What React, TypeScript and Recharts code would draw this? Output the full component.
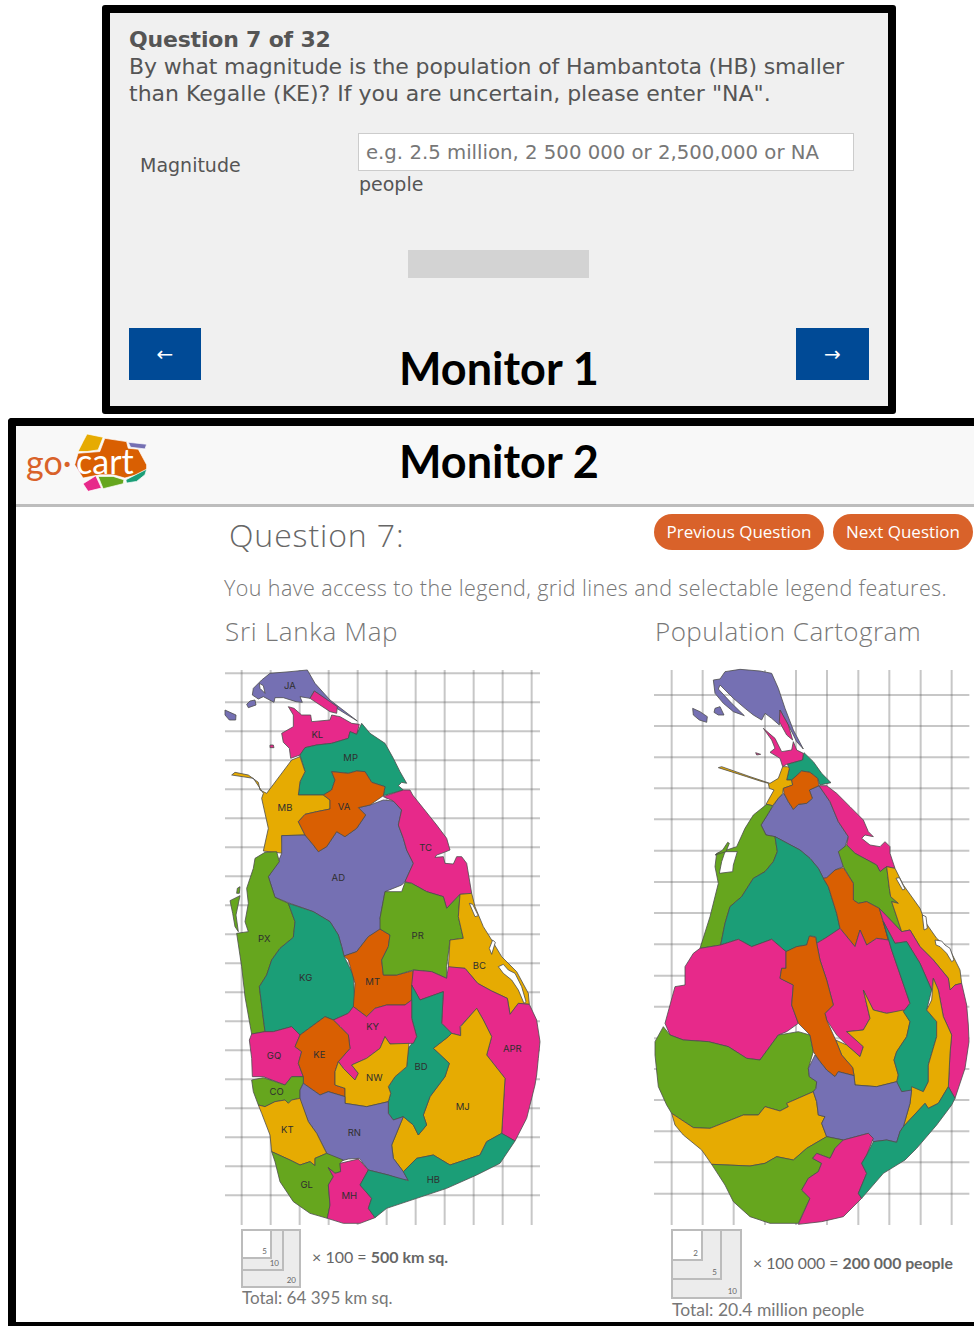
import type { CSSProperties } from 'react';
import { ScatterChart, Scatter, XAxis, YAxis, ReferenceLine } from 'recharts';

type Ring = number[][];
type Region = { color: string; ring: Ring };

const PURPLE = '#7570b3';
const PINK = '#e7298a';
const TEAL = '#1b9e77';
const YELLOW = '#e6ab02';
const ORANGE = '#d95f02';
const GREEN = '#66a61e';
const WATER = '#ffffff';

// Sri Lanka land map, outlines in map units (1 unit = 1/3 px)
const lJA: Ring = [[100,70],[125,45],[150,25],[210,20],[262,15],[285,55],[330,105],[412,168],[350,130],[300,90],[283,78],[270,100],[240,95],[247,112],[228,110],[190,98],[165,98],[162,112],[130,95],[115,102],[97,90]];
const lJAHole: Ring = [[118,55],[130,62],[135,85],[120,70]];
const lIsle1: Ring = [[90,108],[105,105],[108,120],[85,128],[80,118]];
const lIsle2: Ring = [[15,135],[30,142],[48,150],[47,165],[28,165],[15,150]];
const lIsle3: Ring = [[150,240],[160,240],[162,248],[150,248]];
const lKLN: Ring = [[283,78],[330,110],[352,125],[350,145],[330,140],[300,120],[270,100]];
const lKL: Ring = [[205,125],[222,130],[245,150],[272,150],[275,170],[330,165],[335,150],[360,155],[395,175],[418,178],[410,208],[390,200],[385,220],[335,235],[290,240],[255,248],[240,270],[212,280],[208,250],[190,232],[185,205],[220,185],[220,150]];
const lMP: Ring = [[425,175],[450,205],[495,235],[520,280],[540,320],[560,355],[545,352],[535,362],[550,375],[490,392],[495,365],[455,352],[435,320],[410,318],[385,325],[335,320],[345,345],[335,375],[310,390],[235,390],[240,350],[255,320],[240,270],[255,248],[290,240],[335,235],[385,220],[390,200],[410,208]];
const lMB: Ring = [[240,275],[255,320],[240,350],[235,390],[310,390],[330,405],[330,432],[290,440],[255,448],[235,470],[255,510],[185,512],[190,565],[130,558],[145,490],[125,400],[130,385],[100,340],[35,330],[45,322],[85,330],[115,352],[120,375],[140,385],[170,345],[215,285]];
const lVA: Ring = [[335,320],[385,325],[410,318],[435,320],[455,352],[495,365],[490,392],[450,420],[415,428],[437,450],[410,490],[375,515],[350,500],[320,545],[295,560],[280,540],[255,510],[235,470],[255,448],[290,440],[330,432],[330,405],[310,390],[335,375],[345,345]];
const lAD: Ring = [[185,512],[255,510],[280,540],[295,560],[320,545],[350,500],[375,515],[410,490],[437,450],[415,428],[450,420],[490,405],[520,408],[545,435],[535,480],[550,520],[560,555],[580,595],[555,650],[545,660],[495,680],[480,760],[490,790],[445,815],[410,860],[372,873],[365,845],[355,810],[330,770],[280,740],[210,715],[165,697],[145,635],[175,590],[185,565]];
const lTC: Ring = [[490,395],[550,375],[570,375],[578,390],[610,430],[650,480],[680,520],[690,555],[665,565],[650,570],[645,577],[670,575],[675,595],[700,597],[710,575],[725,575],[740,595],[755,685],[720,688],[680,730],[670,695],[620,680],[575,655],[555,650],[580,595],[560,555],[550,520],[535,480],[545,435],[520,408]];
const lPX: Ring = [[135,562],[170,560],[178,590],[145,635],[165,697],[205,715],[225,770],[220,817],[180,850],[155,885],[140,930],[118,965],[135,1100],[95,1107],[75,995],[65,905],[50,805],[85,800],[75,770],[85,715],[80,670],[100,610],[105,580]];
const lPXSpit: Ring = [[30,707],[60,692],[48,750],[55,800],[45,785],[38,745]];
const lPXIsle: Ring = [[52,670],[60,665],[58,685],[50,685]];
const lKG: Ring = [[205,715],[280,740],[330,770],[355,810],[365,845],[372,873],[400,930],[405,1020],[385,1045],[340,1065],[315,1055],[240,1110],[215,1085],[160,1100],[135,1100],[118,965],[140,930],[155,885],[180,850],[220,817],[225,770]];
const lMT: Ring = [[372,873],[410,860],[445,815],[480,792],[510,810],[505,845],[485,885],[490,930],[530,930],[580,917],[575,1005],[555,1020],[500,1020],[465,1030],[440,1055],[400,1025],[405,955],[385,885]];
const lPR: Ring = [[495,680],[545,680],[555,652],[575,655],[620,680],[670,695],[680,730],[720,688],[715,755],[730,820],[690,825],[680,905],[680,940],[635,920],[580,915],[530,930],[490,930],[485,885],[505,845],[510,810],[480,792],[480,760]];
const lBC: Ring = [[720,688],[755,685],[765,725],[790,785],[815,825],[845,875],[890,920],[925,985],[928,1018],[895,1015],[870,1048],[862,1000],[815,978],[773,955],[735,910],[685,908],[690,825],[730,820],[715,755]];
const lBCLag1: Ring = [[748,715],[758,718],[775,752],[765,755]];
const lBCLag2: Ring = [[818,825],[826,832],[815,868],[808,850]];
const lBCLag3: Ring = [[835,905],[850,898],[865,915],[885,925],[905,965],[918,1010],[912,1015],[895,975],[875,945],[850,925]];
const lAPR: Ring = [[580,915],[635,920],[680,940],[685,905],[735,910],[773,955],[815,978],[862,1000],[870,1048],[895,1015],[928,1018],[950,1065],[960,1130],[955,1180],[950,1230],[945,1260],[920,1360],[885,1428],[845,1405],[855,1240],[800,1170],[815,1115],[790,1065],[770,1030],[720,1085],[722,1112],[695,1105],[665,1075],[670,980],[600,1005],[575,960]];
const lBD: Ring = [[575,960],[600,1005],[670,980],[665,1075],[695,1105],[685,1115],[640,1150],[688,1195],[675,1235],[630,1295],[610,1350],[620,1380],[595,1410],[580,1380],[550,1355],[520,1365],[505,1345],[505,1310],[512,1285],[505,1265],[525,1235],[560,1205],[565,1150],[590,1115],[575,1060]];
const lMJ: Ring = [[770,1030],[722,1085],[722,1112],[695,1105],[685,1115],[640,1150],[688,1195],[675,1235],[630,1295],[610,1350],[620,1380],[595,1410],[580,1380],[550,1355],[515,1440],[520,1480],[550,1520],[590,1480],[640,1470],[690,1500],[780,1470],[800,1430],[845,1405],[855,1240],[800,1170],[815,1115],[790,1065]];
const lKY: Ring = [[385,1045],[400,1025],[440,1055],[465,1030],[500,1020],[555,1020],[575,1005],[575,1060],[590,1115],[580,1135],[510,1137],[495,1115],[480,1150],[440,1180],[395,1200],[415,1225],[405,1245],[370,1210],[355,1190],[390,1150],[385,1110],[360,1085],[340,1065]];
const lGQ: Ring = [[95,1107],[135,1100],[160,1100],[215,1085],[240,1110],[225,1145],[245,1160],[235,1195],[250,1235],[215,1235],[195,1260],[130,1235],[97,1235],[95,1180],[88,1125]];
const lKE: Ring = [[240,1110],[315,1055],[340,1065],[360,1085],[385,1110],[390,1150],[355,1190],[345,1220],[345,1260],[375,1270],[375,1295],[325,1280],[300,1290],[250,1255],[250,1235],[235,1195],[245,1160],[225,1145]];
const lNW: Ring = [[480,1150],[495,1115],[510,1137],[567,1135],[560,1205],[525,1235],[505,1265],[512,1285],[505,1310],[440,1325],[375,1315],[375,1270],[345,1260],[345,1220],[355,1190],[370,1210],[405,1245],[415,1225],[395,1200],[440,1180]];
const lCO: Ring = [[95,1245],[130,1238],[195,1260],[215,1235],[250,1235],[250,1255],[240,1275],[240,1300],[215,1305],[205,1315],[195,1305],[165,1310],[135,1325],[115,1320],[100,1280]];
const lRN: Ring = [[250,1255],[300,1290],[325,1280],[375,1295],[375,1315],[440,1325],[505,1310],[505,1345],[520,1365],[550,1355],[515,1440],[520,1480],[550,1520],[565,1545],[545,1545],[505,1530],[445,1515],[418,1480],[385,1482],[355,1490],[320,1465],[290,1405],[265,1370],[240,1305],[240,1275]];
const lKT: Ring = [[115,1320],[135,1325],[165,1310],[195,1305],[205,1315],[215,1305],[240,1300],[265,1370],[290,1405],[320,1465],[285,1480],[285,1502],[270,1490],[240,1500],[210,1485],[155,1460],[150,1410],[125,1345]];
const lGL: Ring = [[155,1460],[210,1485],[240,1500],[270,1490],[285,1502],[285,1480],[320,1465],[370,1485],[360,1495],[362,1520],[345,1525],[325,1508],[340,1535],[325,1560],[330,1620],[322,1660],[270,1645],[220,1610],[180,1550],[165,1490]];
const lMH: Ring = [[360,1495],[415,1482],[445,1515],[420,1560],[455,1600],[445,1630],[465,1658],[420,1675],[370,1675],[322,1660],[330,1620],[325,1560],[340,1535],[325,1508],[345,1525],[362,1520]];
const lHB: Ring = [[420,1560],[445,1515],[505,1530],[565,1547],[550,1520],[590,1480],[640,1470],[690,1500],[780,1470],[800,1430],[845,1405],[885,1428],[840,1495],[770,1530],[680,1570],[590,1600],[500,1630],[465,1658],[445,1630],[455,1600]];

const landRegions: Region[] = [
  { color: PURPLE, ring: lJA }, { color: WATER, ring: lJAHole }, { color: PURPLE, ring: lIsle1 }, { color: PURPLE, ring: lIsle2 },
  { color: PINK, ring: lIsle3 }, { color: PINK, ring: lKLN }, { color: PINK, ring: lKL }, { color: TEAL, ring: lMP },
  { color: YELLOW, ring: lMB }, { color: PURPLE, ring: lAD }, { color: ORANGE, ring: lVA }, { color: PINK, ring: lTC },
  { color: GREEN, ring: lPX }, { color: GREEN, ring: lPXSpit }, { color: GREEN, ring: lPXIsle }, { color: TEAL, ring: lKG },
  { color: ORANGE, ring: lMT }, { color: GREEN, ring: lPR }, { color: YELLOW, ring: lBC }, { color: WATER, ring: lBCLag1 },
  { color: WATER, ring: lBCLag2 }, { color: WATER, ring: lBCLag3 }, { color: PINK, ring: lAPR }, { color: YELLOW, ring: lMJ },
  { color: TEAL, ring: lBD }, { color: PINK, ring: lKY }, { color: PINK, ring: lGQ }, { color: ORANGE, ring: lKE },
  { color: YELLOW, ring: lNW }, { color: GREEN, ring: lCO }, { color: PURPLE, ring: lRN }, { color: YELLOW, ring: lKT },
  { color: GREEN, ring: lGL }, { color: PINK, ring: lMH }, { color: TEAL, ring: lHB },
];

const landLabels = [
  { name: 'JA', x: 210, y: 60 }, { name: 'KL', x: 292, y: 208 }, { name: 'MP', x: 392, y: 277 }, { name: 'MB', x: 195, y: 428 },
  { name: 'VA', x: 372, y: 423 }, { name: 'TC', x: 617, y: 548 }, { name: 'AD', x: 355, y: 637 }, { name: 'PX', x: 133, y: 820 },
  { name: 'PR', x: 593, y: 810 }, { name: 'KG', x: 257, y: 938 }, { name: 'MT', x: 458, y: 950 }, { name: 'BC', x: 778, y: 900 },
  { name: 'KY', x: 458, y: 1083 }, { name: 'GQ', x: 162, y: 1170 }, { name: 'KE', x: 298, y: 1167 }, { name: 'NW', x: 463, y: 1237 },
  { name: 'BD', x: 603, y: 1205 }, { name: 'APR', x: 877, y: 1150 }, { name: 'CO', x: 170, y: 1278 }, { name: 'KT', x: 202, y: 1393 },
  { name: 'RN', x: 403, y: 1403 }, { name: 'MJ', x: 728, y: 1325 }, { name: 'GL', x: 260, y: 1558 }, { name: 'MH', x: 388, y: 1592 },
  { name: 'HB', x: 640, y: 1543 },
];

const landGridX = [65, 152, 239, 326, 413, 500, 587, 674, 761, 848, 935];
const landGridY = [25, 112, 199, 286, 373, 460, 547, 634, 721, 808, 895, 982, 1069, 1156, 1243, 1330, 1417, 1504, 1591];

// Population cartogram
const cJA: Ring = [[190,45],[210,42],[225,20],[270,13],[330,18],[365,25],[385,70],[405,130],[430,195],[460,252],[440,230],[415,180],[390,135],[388,180],[365,160],[345,145],[335,165],[310,150],[285,130],[250,100],[210,60],[205,72],[245,115],[283,152],[250,140],[220,115],[195,85]];
const cIsle1: Ring = [[128,130],[150,140],[172,155],[170,172],[148,165],[130,150]];
const cIsle2: Ring = [[195,130],[210,125],[222,150],[205,150],[192,142]];
const cIsle3: Ring = [[317,263],[332,268],[320,270]];
const cKLN: Ring = [[390,135],[415,180],[428,225],[410,210],[388,170]];
const cKL: Ring = [[340,190],[375,220],[395,260],[425,255],[430,230],[440,255],[460,265],[458,285],[410,298],[398,305],[390,280],[360,262],[375,250],[365,225]];
const cMP: Ring = [[462,263],[490,290],[515,325],[543,353],[510,360],[503,340],[480,322],[455,318],[425,345],[410,345],[418,310],[412,298],[458,285]];
const cMB: Ring = [[398,305],[412,305],[418,310],[410,345],[425,345],[428,360],[400,370],[398,385],[385,400],[368,422],[348,418],[372,375],[358,370],[355,355],[330,348],[290,335],[205,308],[215,305],[300,335],[360,355],[385,340]];
const cVA: Ring = [[455,318],[480,322],[503,340],[507,362],[478,375],[487,400],[470,415],[445,418],[430,433],[415,410],[402,385],[400,370],[428,360],[425,345]];
const cAD: Ring = [[370,422],[385,400],[402,385],[415,410],[430,433],[445,418],[470,415],[487,400],[478,375],[507,362],[540,410],[565,470],[595,515],[585,545],[580,605],[555,615],[530,640],[520,640],[505,610],[480,580],[450,555],[375,515],[348,510],[333,480],[355,445]];
const cTC: Ring = [[507,362],[530,362],[560,385],[600,425],[640,465],[655,500],[670,515],[645,510],[635,520],[660,540],[690,545],[705,530],[720,545],[720,565],[735,610],[710,605],[690,620],[680,600],[615,565],[590,540],[595,515],[565,470],[540,410]];
const cPX: Ring = [[350,418],[368,422],[355,445],[333,480],[348,510],[375,515],[382,560],[370,590],[345,620],[310,640],[275,695],[240,725],[225,775],[212,840],[150,850],[180,755],[205,655],[195,605],[200,565],[260,545],[285,490],[310,450]];
const cPXLag: Ring = [[225,560],[262,560],[250,600],[248,620],[208,625],[215,590]];
const cPXSpit: Ring = [[233,532],[238,535],[228,560],[195,570],[218,555]];
const cKG: Ring = [[375,515],[450,555],[480,580],[505,610],[520,640],[535,665],[560,745],[570,790],[545,810],[525,820],[500,835],[497,815],[480,813],[470,840],[440,845],[408,860],[365,823],[305,845],[265,823],[212,840],[225,775],[240,725],[275,695],[310,640],[345,620],[370,590],[382,560]];
const cMT: Ring = [[520,640],[530,638],[555,615],[580,608],[610,655],[610,705],[625,715],[650,710],[688,730],[715,825],[680,820],[650,840],[630,795],[615,845],[570,790],[560,745],[535,665]];
const cPR: Ring = [[565,560],[590,540],[615,565],[680,600],[690,620],[710,605],[718,670],[722,695],[745,715],[725,710],[755,800],[688,730],[650,710],[625,715],[610,705],[610,655],[580,605]];
const cBC: Ring = [[710,605],[735,610],[760,660],[810,730],[825,770],[860,820],[900,855],[930,915],[935,955],[915,960],[900,975],[895,940],[850,885],[810,845],[780,795],[755,800],[725,710],[745,715],[722,695],[718,670]];
const cBCLag1: Ring = [[738,640],[748,638],[765,672],[758,675]];
const cBCLag2: Ring = [[817,750],[828,755],[832,790],[822,795]];
const cBCLag3: Ring = [[855,825],[875,828],[885,840],[900,850],[912,885],[905,890],[890,865],[870,845],[858,840]];
const cAPR: Ring = [[688,730],[755,800],[780,795],[810,845],[850,885],[895,940],[900,975],[915,960],[935,955],[950,1020],[955,1080],[957,1130],[945,1210],[915,1300],[895,1265],[900,1165],[905,1110],[880,1055],[865,975],[850,940],[845,975],[810,895],[770,830],[735,835],[700,770]];
const cMid: Ring = [[570,790],[615,845],[630,795],[650,840],[680,820],[715,825],[700,770],[725,855],[780,1015],[760,1040],[710,1045],[670,1035],[640,975],[660,1060],[640,1095],[590,1100],[640,1145],[630,1175],[590,1140],[560,1110],[530,1065],[525,1045],[550,1020],[530,945],[510,885],[500,835],[525,820]];
const cMJ: Ring = [[640,975],[670,1035],[710,1045],[760,1035],[780,1070],[770,1115],[740,1160],[732,1185],[745,1230],[740,1250],[680,1265],[615,1260],[612,1230],[608,1208],[575,1170],[557,1125],[590,1140],[630,1175],[640,1145],[590,1100],[640,1095],[660,1060]];
const cBD: Ring = [[700,770],[735,835],[770,830],[810,895],[845,975],[830,1035],[860,1070],[860,1115],[835,1200],[835,1250],[820,1280],[755,1280],[740,1255],[745,1230],[732,1185],[740,1160],[770,1115],[780,1070],[760,1040],[780,1015],[725,855]];
const cStrip: Ring = [[850,940],[865,975],[880,1055],[905,1110],[900,1165],[895,1265],[865,1315],[835,1330],[825,1315],[760,1385],[780,1315],[785,1265],[820,1280],[835,1250],[835,1200],[860,1115],[860,1070],[830,1035],[845,1005]];
const cKE: Ring = [[478,813],[497,817],[500,835],[510,885],[530,945],[550,1020],[525,1045],[530,1065],[557,1125],[575,1170],[608,1208],[612,1232],[565,1220],[555,1235],[530,1215],[510,1190],[490,1160],[480,1110],[445,1075],[425,1020],[430,960],[390,940],[395,910],[408,910],[408,860],[440,845],[470,840]];
const cGQ: Ring = [[150,850],[212,840],[265,823],[305,845],[365,823],[408,860],[408,910],[395,910],[390,940],[430,960],[425,1020],[445,1075],[410,1100],[385,1110],[330,1185],[290,1180],[235,1145],[175,1130],[100,1125],[60,1110],[45,1075],[75,965],[105,960],[105,905],[130,865]];
const cCO: Ring = [[40,1085],[60,1110],[100,1125],[175,1130],[235,1145],[290,1180],[330,1185],[385,1110],[445,1100],[480,1110],[490,1160],[475,1210],[478,1235],[500,1250],[498,1270],[490,1280],[410,1315],[415,1325],[390,1338],[345,1325],[325,1350],[280,1350],[180,1390],[130,1388],[65,1345],[50,1320],[25,1265],[15,1170],[15,1130]];
const cKT: Ring = [[65,1345],[130,1388],[180,1390],[280,1350],[325,1350],[345,1325],[390,1338],[415,1325],[410,1315],[490,1280],[500,1310],[505,1350],[525,1355],[515,1375],[530,1415],[470,1450],[430,1485],[380,1475],[345,1495],[300,1503],[185,1498],[155,1455],[100,1410],[75,1380]];
const cRN: Ring = [[495,1170],[510,1190],[530,1215],[555,1235],[565,1220],[612,1232],[615,1260],[680,1265],[740,1250],[755,1280],[785,1275],[780,1315],[760,1385],[750,1400],[740,1432],[710,1425],[670,1430],[655,1405],[580,1425],[530,1415],[515,1375],[525,1355],[505,1350],[500,1310],[490,1280],[498,1270],[500,1250],[478,1235],[475,1210]];
const cGL: Ring = [[185,1498],[300,1503],[345,1495],[380,1475],[430,1485],[470,1450],[530,1415],[580,1425],[555,1450],[540,1480],[500,1465],[488,1480],[515,1495],[505,1520],[475,1540],[455,1575],[480,1600],[445,1675],[360,1675],[300,1655],[250,1610],[225,1560]];
const cMH: Ring = [[580,1425],[655,1405],[670,1420],[650,1470],[635,1495],[650,1525],[625,1585],[635,1600],[580,1655],[515,1670],[445,1678],[480,1600],[455,1575],[475,1540],[505,1520],[515,1495],[488,1480],[500,1465],[540,1480],[555,1450]];
const cHB: Ring = [[670,1430],[710,1425],[740,1432],[750,1400],[760,1385],[825,1315],[835,1330],[865,1315],[895,1265],[915,1300],[905,1320],[860,1380],[800,1450],[765,1485],[700,1525],[635,1600],[625,1585],[650,1525],[635,1495],[650,1470]];

const cartoRegions: Region[] = [
  { color: PURPLE, ring: cJA }, { color: PURPLE, ring: cIsle1 }, { color: PURPLE, ring: cIsle2 }, { color: PINK, ring: cIsle3 },
  { color: PINK, ring: cKLN }, { color: PINK, ring: cKL }, { color: TEAL, ring: cMP }, { color: YELLOW, ring: cMB },
  { color: PURPLE, ring: cAD }, { color: ORANGE, ring: cVA }, { color: PINK, ring: cTC }, { color: GREEN, ring: cPX },
  { color: WATER, ring: cPXLag }, { color: GREEN, ring: cPXSpit }, { color: TEAL, ring: cKG }, { color: GREEN, ring: cPR },
  { color: ORANGE, ring: cMT }, { color: YELLOW, ring: cBC }, { color: WATER, ring: cBCLag1 }, { color: WATER, ring: cBCLag2 },
  { color: WATER, ring: cBCLag3 }, { color: PINK, ring: cAPR }, { color: PINK, ring: cMid }, { color: YELLOW, ring: cMJ },
  { color: TEAL, ring: cBD }, { color: YELLOW, ring: cStrip }, { color: PINK, ring: cGQ }, { color: GREEN, ring: cCO },
  { color: ORANGE, ring: cKE }, { color: YELLOW, ring: cKT }, { color: PURPLE, ring: cRN }, { color: GREEN, ring: cGL },
  { color: PINK, ring: cMH }, { color: TEAL, ring: cHB },
];

const cartoGridX = [65, 158, 251, 345, 438, 531, 625, 718, 812, 905];
const cartoGridY = [90, 183, 277, 370, 463, 557, 651, 744, 838, 932, 1025, 1120, 1212, 1305, 1399, 1492, 1586];

// Logo pieces
const logoYellow: Ring = [[250,95],[262,72],[310,82],[295,120],[262,125],[235,125]];
const logoOrange: Ring = [[300,125],[315,85],[380,95],[385,115],[415,118],[440,165],[440,180],[410,195],[375,205],[340,195],[300,195],[250,205],[225,165],[235,130],[262,128]];
const logoPurple: Ring = [[385,97],[440,103],[435,117],[392,112]];
const logoTeal: Ring = [[378,210],[440,178],[435,195],[410,215],[380,220]];
const logoGreen: Ring = [[295,200],[340,200],[372,210],[370,222],[310,237]];
const logoPink: Ring = [[250,222],[288,198],[305,235],[265,245]];
const logoRegions: Region[] = [
  { color: YELLOW, ring: logoYellow }, { color: ORANGE, ring: logoOrange }, { color: PURPLE, ring: logoPurple },
  { color: TEAL, ring: logoTeal }, { color: GREEN, ring: logoGreen }, { color: PINK, ring: logoPink },
];

const toPoints = (ring: Ring) => [...ring, ring[0]].map(([x, y]) => ({ x, y }));

function RegionLabel(props: any) {
  const name = props.payload?.name ?? props.name;
  return (
    <text x={props.cx} y={props.cy} textAnchor="middle" dominantBaseline="central" fontSize={9.5} fontFamily="Inter, Arial, sans-serif" fill="#2f2f2f">
      {name}
    </text>
  );
}

type MapProps = {
  regions: Region[];
  labels?: { name: string; x: number; y: number }[];
  gridX?: number[];
  gridY?: number[];
  gridBox?: number[];
  domainX: number[];
  domainY: number[];
  width: number;
  height: number;
  stroke: string;
  strokeWidth: number;
};

function MapChart({ regions, labels = [], gridX = [], gridY = [], gridBox = [0, 0, 0, 0], domainX, domainY, width, height, stroke, strokeWidth }: MapProps) {
  const [x0, x1, y0, y1] = gridBox;
  return (
    <ScatterChart width={width} height={height} margin={{ top: 0, right: 0, bottom: 0, left: 0 }}>
      <XAxis type="number" dataKey="x" domain={domainX} hide allowDataOverflow />
      <YAxis type="number" dataKey="y" domain={domainY} reversed hide allowDataOverflow />
      {regions.map((r, i) => (
        <Scatter
          key={i}
          data={toPoints(r.ring)}
          isAnimationActive={false}
          shape={() => null}
          line={{ fill: r.color, stroke, strokeWidth }}
        />
      ))}
      {gridX.map((x) => (
        <ReferenceLine key={`x${x}`} segment={[{ x, y: y0 }, { x, y: y1 }]} stroke="rgba(90,90,90,0.34)" strokeWidth={2} />
      ))}
      {gridY.map((y) => (
        <ReferenceLine key={`y${y}`} segment={[{ x: x0, y }, { x: x1, y }]} stroke="rgba(90,90,90,0.34)" strokeWidth={2} />
      ))}
      {labels.length > 0 && <Scatter data={labels} isAnimationActive={false} shape={RegionLabel} />}
    </ScatterChart>
  );
}

const abs = (left: number, top: number, extra: CSSProperties = {}): CSSProperties => ({
  position: 'absolute',
  left,
  top,
  whiteSpace: 'nowrap',
  ...extra,
});

const SANS = '"DejaVu Sans", Verdana, sans-serif';
const ROUND = 'Lato, "Open Sans", sans-serif';
const WIDE = '"Open Sans", Lato, sans-serif';

function Nested({ left, sizes, tags }: { left: number; sizes: number[][]; tags: string[] }) {
  return (
    <>
      {sizes.map(([w, h], i) => (
        <div
          key={i}
          style={abs(left, 1229, {
            width: w,
            height: h,
            boxSizing: 'border-box',
            border: '2px solid #bcbcbc',
            background: i === 2 ? '#fff' : '#ececec',
          })}
        >
          <span style={{ position: 'absolute', right: 3, bottom: 1, fontSize: 8, fontFamily: ROUND, color: '#666' }}>{tags[i]}</span>
        </div>
      ))}
    </>
  );
}

export default function App() {
  const q1 = { color: '#555', fontFamily: SANS };
  const q2 = { color: '#777', fontFamily: WIDE, fontWeight: 300 };
  const legendText = { color: '#666', fontFamily: ROUND, fontSize: 16, lineHeight: '22px' };
  return (
    <div style={{ position: 'absolute', left: 0, top: 0, width: 974, height: 1326, overflow: 'hidden', background: '#fff' }}>
      {/* Monitor 1 */}
      <div style={abs(102, 5, { width: 794, height: 409, boxSizing: 'border-box', border: '8px solid #000', borderRadius: 3, background: '#f0f0f0' })} />
      <div style={abs(129, 27, { ...q1, fontWeight: 700, fontSize: 22, lineHeight: '26px', letterSpacing: -0.2 })}>Question 7 of 32</div>
      <div style={abs(129, 53, { ...q1, fontSize: 22, lineHeight: '27px', letterSpacing: -0.13 })}>By what magnitude is the population of Hambantota (HB) smaller</div>
      <div style={abs(129, 80, { ...q1, fontSize: 22, lineHeight: '27px' })}>than Kegalle (KE)? If you are uncertain, please enter "NA".</div>
      <div style={abs(140, 153, { ...q1, fontSize: 19, lineHeight: '24px' })}>Magnitude</div>
      <div style={abs(358, 133, { width: 496, height: 38, boxSizing: 'border-box', border: '1px solid #ccc', background: '#fff', paddingLeft: 7, color: '#777', fontFamily: SANS, fontSize: 19.7, lineHeight: '38px', whiteSpace: 'nowrap' })}>
        e.g. 2.5 million, 2 500 000 or 2,500,000 or NA
      </div>
      <div style={abs(359, 172, { ...q1, fontSize: 19, lineHeight: '24px' })}>people</div>
      <div style={abs(408, 250, { width: 181, height: 28, background: '#d3d3d3' })} />
      <div style={abs(129, 328, { width: 72, height: 52, background: '#004a96', color: '#fff', textAlign: 'center', lineHeight: '52px', fontSize: 20, fontFamily: SANS })}>←</div>
      <div style={abs(796, 328, { width: 73, height: 52, background: '#004a96', color: '#fff', textAlign: 'center', lineHeight: '52px', fontSize: 20, fontFamily: SANS })}>→</div>
      <div style={abs(399, 342, { fontFamily: ROUND, fontWeight: 700, fontSize: 45, lineHeight: '52px', color: '#000' })}>Monitor 1</div>

      {/* Monitor 2 */}
      <div style={abs(8, 418, { width: 1000, height: 908, boxSizing: 'border-box', borderTop: '8px solid #000', borderLeft: '8px solid #000', borderBottom: '4px solid #000', borderTopLeftRadius: 4, background: '#fff' })} />
      <div style={abs(16, 426, { width: 958, height: 78, background: '#f8f8f8', borderBottom: '3px solid #bdbdbd' })} />
      <div style={abs(26, 440, { fontFamily: ROUND, fontSize: 34, lineHeight: '44px', color: '#d9622a' })}>go·</div>
      <div style={abs(73, 430)}>
        <MapChart regions={logoRegions} domainX={[220, 450]} domainY={[60, 250]} width={77} height={63} stroke="#fff" strokeWidth={0.7} />
      </div>
      <div style={abs(76, 441, { fontFamily: ROUND, fontSize: 34, lineHeight: '40px', color: '#fff' })}>cart</div>
      <div style={abs(399, 435, { fontFamily: ROUND, fontWeight: 700, fontSize: 45, lineHeight: '52px', color: '#000' })}>Monitor 2</div>

      <div style={abs(229, 514, { ...q2, fontSize: 32, lineHeight: '42px', letterSpacing: 0.9, color: '#666' })}>Question 7:</div>
      <div style={abs(654, 514, { width: 170, height: 36, borderRadius: 18, background: '#d9622a', color: '#fff', textAlign: 'center', lineHeight: '36px', fontSize: 17, fontFamily: WIDE })}>Previous Question</div>
      <div style={abs(833, 514, { width: 140, height: 36, borderRadius: 18, background: '#d9622a', color: '#fff', textAlign: 'center', lineHeight: '36px', fontSize: 17, fontFamily: WIDE })}>Next Question</div>
      <div style={abs(224, 575, { ...q2, fontSize: 21.5, lineHeight: '26px', letterSpacing: 0.4 })}>You have access to the legend, grid lines and selectable legend features.</div>
      <div style={abs(225, 615, { ...q2, fontSize: 26, lineHeight: '32px', letterSpacing: 0.7 })}>Sri Lanka Map</div>
      <div style={abs(655, 615, { ...q2, fontSize: 26, lineHeight: '32px', letterSpacing: 0.45 })}>Population Cartogram</div>

      <div style={abs(220, 665)}>
        <MapChart regions={landRegions} labels={landLabels} gridX={landGridX} gridY={landGridY} gridBox={[15, 960, 15, 1680]} domainX={[0, 975]} domainY={[0, 1695]} width={325} height={565} stroke="#4d4d4d" strokeWidth={0.8} />
      </div>
      <div style={abs(650, 665)}>
        <MapChart regions={cartoRegions} gridX={cartoGridX} gridY={cartoGridY} gridBox={[12, 958, 15, 1680]} domainX={[0, 972]} domainY={[0, 1695]} width={324} height={565} stroke="#4d4d4d" strokeWidth={0.8} />
      </div>

      <Nested left={241} sizes={[[60, 59], [43, 42], [31, 30]]} tags={['20', '10', '5']} />
      <div style={abs(312, 1246, legendText)}>× 100 = <b>500 km sq.</b></div>
      <div style={abs(242, 1287, { ...q2, fontFamily: ROUND, fontWeight: 400, fontSize: 17, lineHeight: '22px' })}>Total: 64 395 km sq.</div>

      <Nested left={671} sizes={[[71, 70], [51, 51], [32, 32]]} tags={['10', '5', '2']} />
      <div style={abs(753, 1252, { ...legendText, fontSize: 15.8 })}>× 100 000 = <b>200 000 people</b></div>
      <div style={abs(672, 1299, { ...q2, fontFamily: ROUND, fontWeight: 400, fontSize: 17.5, lineHeight: '22px' })}>Total: 20.4 million people</div>
    </div>
  );
}
